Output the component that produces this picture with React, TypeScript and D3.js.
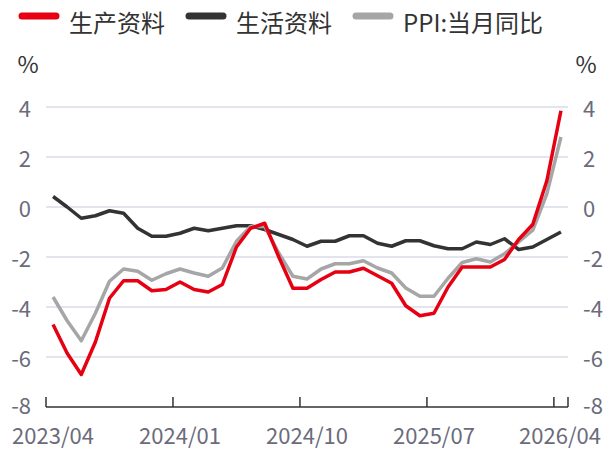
import React from 'react';
import * as d3 from 'd3';

const months = [
  '2023/04', '2023/05', '2023/06', '2023/07', '2023/08', '2023/09', '2023/10', '2023/11', '2023/12',
  '2024/01', '2024/02', '2024/03', '2024/04', '2024/05', '2024/06', '2024/07', '2024/08', '2024/09',
  '2024/10', '2024/11', '2024/12', '2025/01', '2025/02', '2025/03', '2025/04', '2025/05', '2025/06',
  '2025/07', '2025/08', '2025/09', '2025/10', '2025/11', '2025/12', '2026/01', '2026/02', '2026/03',
  '2026/04',
];

// 生产资料
const producer = [
  -4.7, -5.85, -6.7, -5.4, -3.65, -2.95, -2.95, -3.35, -3.3, -3.0,
  -3.3, -3.4, -3.1, -1.6, -0.85, -0.65, -2.0, -3.25, -3.25, -2.9,
  -2.6, -2.6, -2.45, -2.75, -3.05, -3.95, -4.35, -4.25, -3.2, -2.4,
  -2.4, -2.4, -2.1, -1.3, -0.7, 1.05, 3.85,
];

// 生活资料
const consumer = [
  0.42, 0.0, -0.45, -0.35, -0.15, -0.25, -0.85, -1.17, -1.17, -1.05,
  -0.85, -0.95, -0.85, -0.75, -0.75, -0.9, -1.1, -1.3, -1.57, -1.37,
  -1.37, -1.15, -1.15, -1.45, -1.57, -1.35, -1.35, -1.55, -1.67, -1.67,
  -1.4, -1.5, -1.27, -1.7, -1.6, -1.3, -1.0,
];

// PPI:当月同比
const ppi = [
  -3.6, -4.55, -5.35, -4.25, -2.97, -2.48, -2.57, -2.93, -2.67, -2.48,
  -2.64, -2.77, -2.44, -1.37, -0.78, -0.78, -1.84, -2.77, -2.88, -2.48,
  -2.27, -2.27, -2.15, -2.44, -2.64, -3.24, -3.57, -3.57, -2.85, -2.22,
  -2.07, -2.2, -1.87, -1.4, -0.93, 0.53, 2.8,
];

const yTicks = [-8, -6, -4, -2, 0, 2, 4];
const xTickLabels = ['2023/04', '2024/01', '2024/10', '2025/07', '2026/04'];

const seriesList = [
  { name: '生活资料', values: consumer, color: '#333333' },
  { name: 'PPI:当月同比', values: ppi, color: '#a6a6a6' },
  { name: '生产资料', values: producer, color: '#e60012' },
];

const legendItems = [
  { name: '生产资料', color: '#e60012', x: 19 },
  { name: '生活资料', color: '#333333', x: 186 },
  { name: 'PPI:当月同比', color: '#a6a6a6', x: 353 },
];

const font = '"Noto Sans CJK SC", "Noto Sans", sans-serif';
const textColor = '#6b6b7b';

export default function App() {
  const width = 609;
  const height = 452;
  const left = 46;
  const right = 568;

  const x = d3.scaleBand<string>().domain(months).range([left, right]);
  const y = d3.scaleLinear().domain([-8, 4]).range([407, 107]);
  const bw = x.bandwidth();

  const line = d3
    .line<number>()
    .x((_, i) => (x(months[i]) as number) + bw / 2)
    .y((d) => y(d));

  const tickXs = xTickLabels.map((m) => x(m) as number).concat([right]);

  return (
    <svg
      width={width}
      height={height}
      style={{ position: 'absolute', left: 0, top: 0, background: '#fff' }}
      fontFamily={font}
    >
      {/* legend */}
      {legendItems.map((d) => (
        <g key={d.name}>
          <line x1={d.x + 3} x2={d.x + 37} y1={16} y2={16} stroke={d.color} strokeWidth={7} strokeLinecap="round" />
          <text x={d.x + 50} y={21} fontSize={24} fill="#333" dominantBaseline="central">
            {d.name}
          </text>
        </g>
      ))}

      <text x={28} y={63} fontSize={23} fill="#333" textAnchor="middle" dominantBaseline="central">%</text>
      <text x={586} y={63} fontSize={23} fill="#333" textAnchor="middle" dominantBaseline="central">%</text>

      {/* grid + y labels */}
      {yTicks.map((t) => {
        const ty = t === -8 ? y(t) - 3 : y(t);
        return (
          <g key={t}>
            {t > -8 && (
              <line x1={left} x2={right} y1={y(t)} y2={y(t)} stroke="#d9dce8" strokeWidth={1.5} />
            )}
            <text x={31} y={ty} fontSize={22} fill={textColor} textAnchor="end" dominantBaseline="central">
              {t}
            </text>
            <text x={583} y={ty} fontSize={22} fill={textColor} textAnchor="start" dominantBaseline="central">
              {t}
            </text>
          </g>
        );
      })}

      {/* x axis */}
      <line x1={left} x2={right} y1={y(-8)} y2={y(-8)} stroke="#333" strokeWidth={1.5} />
      {tickXs.map((tx, i) => (
        <line key={i} x1={tx} x2={tx} y1={y(-8)} y2={y(-8) - 10} stroke="#333" strokeWidth={1.5} />
      ))}
      {xTickLabels.map((m) => (
        <text
          key={m}
          x={Math.min((x(m) as number) + bw / 2, 560)}
          y={444}
          fontSize={22}
          fill={textColor}
          textAnchor="middle"
        >
          {m}
        </text>
      ))}

      {/* series */}
      {seriesList.map((s) => (
        <path
          key={s.name}
          d={line(s.values) || ''}
          fill="none"
          stroke={s.color}
          strokeWidth={3.5}
          strokeLinejoin="round"
        />
      ))}
    </svg>
  );
}
